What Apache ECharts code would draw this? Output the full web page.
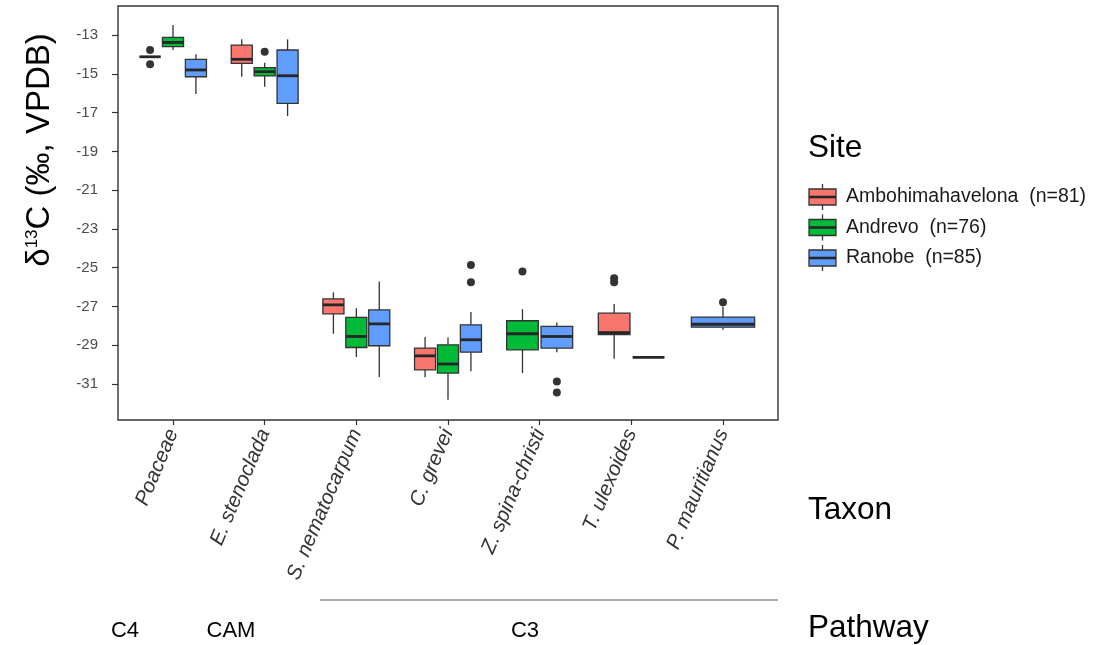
<!DOCTYPE html>
<html>
<head>
<meta charset="utf-8">
<script src="https://cdn.jsdelivr.net/npm/echarts@6/dist/echarts.min.js"></script>
<style>
  html, body { margin: 0; padding: 0; background: #ffffff; }
  #chart { width: 1098px; height: 645px; }
</style>
</head>
<body>
<div id="chart"></div>
<script>
// Taxa along the x axis
const taxa = ['Poaceae', 'E. stenoclada', 'S. nematocarpum', 'C. grevei', 'Z. spina-christi', 'T. ulexoides', 'P. mauritianus'];

// Sites, sample sizes and fill colours
const sites = ['Ambohimahavelona', 'Andrevo', 'Ranobe'];
const siteCounts = [81, 76, 85];
const siteColors = ['#F8766D', '#00BA38', '#619CFF'];

// Five-number summaries per taxon: [lower whisker, Q1, median, Q3, upper whisker]; null = not sampled
const ambohimahavelonaBoxes = [
  [-14.12, -14.12, -14.12, -14.12, -14.12],
  [-15.15, -14.46, -14.25, -13.52, -13.22],
  [-28.41, -27.38, -26.92, -26.61, -26.27],
  [-30.66, -30.27, -29.55, -29.15, -28.58],
  null,
  [-29.70, -28.46, -28.35, -27.35, -26.88],
  null
];
const andrevoBoxes = [
  [-13.77, -13.60, -13.38, -13.12, -12.48],
  [-15.66, -15.11, -14.89, -14.68, -14.43],
  [-29.61, -29.12, -28.55, -27.57, -27.09],
  [-31.81, -30.44, -29.97, -28.98, -28.60],
  [-30.44, -29.24, -28.41, -27.74, -27.14],
  [-29.63, -29.63, -29.63, -29.63, -29.63],
  null
];
const ranobeBoxes = [
  [-16.04, -15.15, -14.80, -14.25, -13.99],
  [-17.18, -16.52, -15.10, -13.77, -13.22],
  [-30.64, -29.03, -27.90, -27.18, -25.72],
  [-30.35, -29.36, -28.72, -27.95, -27.29],
  [-29.36, -29.15, -28.55, -28.03, -27.83],
  null,
  [-28.20, -28.07, -27.92, -27.55, -27.00]
];

// Outliers per site: [taxon index, value]
const ambohimahavelonaOutliers = [[0, -13.77], [0, -14.51], [5, -25.55], [5, -25.75]];
const andrevoOutliers = [[1, -13.86], [4, -25.20]];
const ranobeOutliers = [[3, -24.86], [3, -25.75], [4, -30.87], [4, -31.44], [6, -26.78]];

// Axis ticks
const yTicks = [-31, -29, -27, -25, -23, -21, -19, -17, -15, -13];
const xTicks = taxa.map((t, i) => i);

const pathwayLabels = ['C4', 'CAM', 'C3'];
const siteTitle = 'Site';
const taxonTitle = 'Taxon';
const pathwayTitle = 'Pathway';

const siteBoxes = [ambohimahavelonaBoxes, andrevoBoxes, ranobeBoxes];
const siteOutliers = [ambohimahavelonaOutliers, andrevoOutliers, ranobeOutliers];

// Side-by-side placement of the boxes present within one taxon
function dodge(taxonIdx, siteIdx) {
  const present = siteBoxes.map(b => b[taxonIdx] != null);
  const n = present.filter(Boolean).length || 1;
  let k = 0;
  for (let s = 0; s < siteIdx; s++) if (present[s]) k++;
  const slot = 0.75 / n;
  return { x: taxonIdx - 0.375 + slot * (k + 0.5), w: slot * 0.92 };
}

const INK = '#333333';
const FONT = 'Liberation Sans';

function boxRenderer(siteIdx) {
  return function (params, api) {
    const i = api.value(0);
    const low = api.value(1), q1 = api.value(2), med = api.value(3), q3 = api.value(4), high = api.value(5);
    const d = dodge(i, siteIdx);
    const half = api.size([d.w, 0])[0] / 2;
    const cx = api.coord([d.x, med])[0];
    const yLow = api.coord([d.x, low])[1];
    const yQ1 = api.coord([d.x, q1])[1];
    const yMed = api.coord([d.x, med])[1];
    const yQ3 = api.coord([d.x, q3])[1];
    const yHigh = api.coord([d.x, high])[1];
    return {
      type: 'group',
      children: [
        { type: 'line', shape: { x1: cx, y1: yQ3, x2: cx, y2: yHigh }, style: { stroke: INK, lineWidth: 1.3 } },
        { type: 'line', shape: { x1: cx, y1: yQ1, x2: cx, y2: yLow }, style: { stroke: INK, lineWidth: 1.3 } },
        { type: 'rect', shape: { x: cx - half, y: yQ3, width: half * 2, height: yQ1 - yQ3 },
          style: { fill: siteColors[siteIdx], stroke: INK, lineWidth: 1.3 } },
        { type: 'line', shape: { x1: cx - half, y1: yMed, x2: cx + half, y2: yMed }, style: { stroke: '#262626', lineWidth: 2.8 } }
      ]
    };
  };
}

const series = [];
sites.forEach((name, s) => {
  series.push({
    name: name,
    type: 'custom',
    renderItem: boxRenderer(s),
    encode: { x: 0, y: [1, 2, 3, 4, 5] },
    data: siteBoxes[s].map((b, i) => b ? [i].concat(b) : null).filter(Boolean),
    z: 2
  });
  series.push({
    name: name + ' outliers',
    type: 'scatter',
    symbol: 'circle',
    symbolSize: 8,
    itemStyle: { color: INK, opacity: 1 },
    data: siteOutliers[s].map(([i, v]) => [dodge(i, s).x, v]),
    z: 3
  });
});

// Legend keys drawn as small boxplot glyphs
const legendGraphics = [];
sites.forEach((name, s) => {
  const yc = 197 + s * 30.5;
  const x0 = 809, w = 27;
  legendGraphics.push(
    { type: 'line', shape: { x1: x0 + w / 2, y1: yc - 13, x2: x0 + w / 2, y2: yc + 13 }, style: { stroke: INK, lineWidth: 1.3 } },
    { type: 'rect', shape: { x: x0, y: yc - 8, width: w, height: 16 }, style: { fill: siteColors[s], stroke: INK, lineWidth: 1.3 } },
    { type: 'line', shape: { x1: x0, y1: yc, x2: x0 + w, y2: yc }, style: { stroke: '#262626', lineWidth: 2.6 } },
    { type: 'text', x: 846, y: yc, style: { text: name + '  (n=' + siteCounts[s] + ')', fontSize: 19.5, fontFamily: FONT, fill: '#1a1a1a', verticalAlign: 'middle', align: 'left' } }
  );
});

const titleStyle = { fontSize: 31.5, fontFamily: FONT, fill: '#000', verticalAlign: 'middle' };
const pathStyle = { fontSize: 22, fontFamily: FONT, fill: '#000', align: 'center', verticalAlign: 'middle' };

const chart = echarts.init(document.getElementById('chart'), null, { renderer: 'canvas' });
chart.setOption({
  animation: false,
  backgroundColor: '#ffffff',
  grid: { left: 118, top: 6, width: 660, height: 414, show: true, borderColor: '#333333', borderWidth: 1.4, backgroundColor: 'transparent' },
  xAxis: {
    type: 'value', min: -0.6, max: 6.6,
    axisLine: { show: false, onZero: false },
    splitLine: { show: false },
    axisTick: { show: true, customValues: xTicks, length: 5, lineStyle: { color: INK, width: 1.2 } },
    axisLabel: {
      customValues: xTicks,
      formatter: v => taxa[Math.round(v)] || '',
      rotate: 67, fontSize: 20.5, fontStyle: 'italic', fontFamily: FONT, color: '#333333',
      margin: 10
    }
  },
  yAxis: {
    type: 'value', min: -32.86, max: -11.5,
    axisLine: { show: false, onZero: false },
    splitLine: { show: false },
    axisTick: { show: true, customValues: yTicks, length: 6, lineStyle: { color: INK, width: 1.2 } },
    axisLabel: {
      customValues: yTicks,
      formatter: v => String(v),
      fontSize: 15, fontFamily: FONT, color: '#4d4d4d', margin: 20
    }
  },
  series: series,
  graphic: [
    {
      type: 'text', x: 40, y: 150, rotation: Math.PI / 2,
      style: {
        text: '{a|δ}{s|13}{a|C (‰, VPDB)}',
        align: 'center', verticalAlign: 'middle',
        rich: {
          a: { fontSize: 33, fontFamily: FONT, fill: '#000', color: '#000' },
          s: { fontSize: 17, fontFamily: FONT, fill: '#000', color: '#000', verticalAlign: 'top', padding: [0, 0, 14, 0] }
        }
      }
    },
    { type: 'text', x: 808, y: 148, style: Object.assign({ text: siteTitle }, titleStyle) },
    { type: 'text', x: 808, y: 510, style: Object.assign({ text: taxonTitle }, titleStyle) },
    { type: 'text', x: 808, y: 628, style: Object.assign({ text: pathwayTitle }, titleStyle) },
    { type: 'line', shape: { x1: 320, y1: 600, x2: 778, y2: 600 }, style: { stroke: '#555555', lineWidth: 1.2 } },
    { type: 'text', x: 125, y: 631, style: Object.assign({ text: pathwayLabels[0] }, pathStyle) },
    { type: 'text', x: 231, y: 631, style: Object.assign({ text: pathwayLabels[1] }, pathStyle) },
    { type: 'text', x: 525, y: 631, style: Object.assign({ text: pathwayLabels[2] }, pathStyle) }
  ].concat(legendGraphics)
});
</script>
</body>
</html>
